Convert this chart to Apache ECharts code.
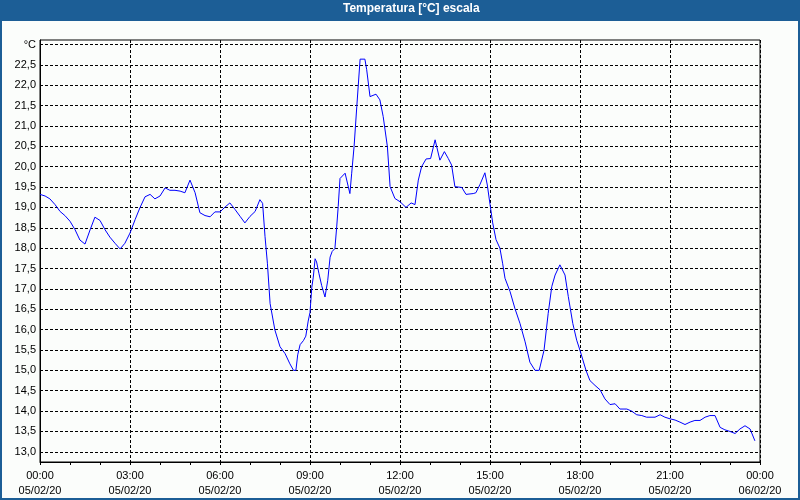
<!DOCTYPE html>
<html>
<head>
<meta charset="utf-8">
<script src="https://cdn.jsdelivr.net/npm/echarts@6/dist/echarts.min.js"></script>
<style>
html,body{margin:0;padding:0;background:#fbfdfb;}
#chart{width:800px;height:500px;}
</style>
</head>
<body>
<div id="chart"></div>
<script>
// ---- data ----
var titleText = 'Temperatura [°C] escala';
var hours = [0,0.17,0.33,0.5,0.67,0.83,1.0,1.17,1.33,1.5,1.67,1.83,2.0,2.17,2.33,2.5,2.67,2.83,3.0,3.17,3.33,3.5,3.67,3.83,4.0,4.17,4.33,4.5,4.67,4.83,5.0,5.17,5.33,5.5,5.67,5.83,6.0,6.17,6.33,6.5,6.67,6.83,7.0,7.17,7.33,7.42,7.5,7.58,7.67,7.83,8.0,8.17,8.33,8.45,8.53,8.59,8.67,8.78,8.86,8.94,9.0,9.06,9.11,9.17,9.22,9.3,9.39,9.5,9.59,9.67,9.74,9.83,9.89,9.94,10.0,10.17,10.33,10.39,10.47,10.56,10.67,10.83,10.89,11.0,11.2,11.33,11.44,11.58,11.67,11.83,12.0,12.2,12.37,12.5,12.61,12.72,12.87,13.02,13.17,13.33,13.48,13.61,13.72,13.83,14.06,14.2,14.44,14.53,14.67,14.83,14.91,15.0,15.09,15.2,15.33,15.42,15.5,15.67,15.83,16.0,16.17,16.33,16.5,16.64,16.8,16.94,17.06,17.17,17.33,17.5,17.61,17.76,17.89,18.0,18.2,18.33,18.5,18.67,18.83,19.0,19.17,19.33,19.56,19.72,19.89,20.06,20.22,20.5,20.67,20.83,21.0,21.17,21.33,21.5,21.67,21.83,22.0,22.17,22.33,22.5,22.67,22.83,23.0,23.17,23.33,23.5,23.67,23.83];
var temps = [19.32,19.28,19.21,19.07,18.9,18.8,18.66,18.45,18.2,18.1,18.45,18.76,18.68,18.45,18.27,18.12,17.98,18.12,18.37,18.7,18.99,19.26,19.32,19.21,19.28,19.48,19.42,19.42,19.4,19.36,19.67,19.36,18.87,18.8,18.77,18.89,18.89,19.01,19.11,18.95,18.78,18.62,18.78,18.9,19.19,19.1,18.29,17.63,16.64,15.99,15.58,15.41,15.16,15.0,15.0,15.38,15.63,15.73,15.84,16.21,16.42,17.04,17.29,17.74,17.66,17.37,17.08,16.8,17.2,17.78,17.92,17.99,18.52,19.02,19.71,19.84,19.34,19.84,20.5,21.48,22.64,22.64,22.38,21.72,21.78,21.64,21.23,20.49,19.51,19.22,19.14,19.0,19.11,19.07,19.67,20.0,20.19,20.2,20.66,20.16,20.37,20.2,20.04,19.51,19.49,19.32,19.34,19.36,19.57,19.85,19.55,19.08,18.62,18.21,18.0,17.63,17.26,16.93,16.52,16.15,15.7,15.2,15.0,15.0,15.49,16.4,17.06,17.34,17.59,17.34,16.81,16.15,15.74,15.49,15.0,14.75,14.63,14.52,14.3,14.16,14.18,14.05,14.05,14.0,13.91,13.89,13.85,13.85,13.91,13.85,13.81,13.78,13.73,13.67,13.73,13.77,13.77,13.85,13.89,13.89,13.6,13.54,13.5,13.45,13.56,13.64,13.56,13.27];
var xTickLabels = ['00:00\n05/02/20','03:00\n05/02/20','06:00\n05/02/20','09:00\n05/02/20','12:00\n05/02/20','15:00\n05/02/20','18:00\n05/02/20','21:00\n05/02/20','00:00\n06/02/20'];
var yUnitLabel = '°C';

// ---- chart ----
var seriesData = hours.map(function (h, i) { return [h, temps[i]]; });
var chart = echarts.init(document.getElementById('chart'));
var font = 'Liberation Sans, Arial, sans-serif';
chart.setOption({
  animation: false,
  backgroundColor: '#fbfdfb',
  graphic: [
    { type: 'rect', z: 0, shape: { x: 0, y: 0, width: 800, height: 21 }, style: { fill: '#1c5e96' } },
    { type: 'rect', z: 0, shape: { x: 1, y: 1, width: 798, height: 498 }, style: { fill: 'none', stroke: '#1c5e96', lineWidth: 2 } }
  ],
  title: {
    text: titleText, left: 343, top: 3, z: 10, padding: 0,
    textStyle: { color: '#ffffff', fontSize: 12, fontWeight: 'bold', fontFamily: font }
  },
  grid: { left: 40, right: 40, top: 40, bottom: 38, show: true, borderColor: '#000', borderWidth: 1, backgroundColor: '#fbfdfb' },
  xAxis: {
    type: 'value', min: 0, max: 24, interval: 3,
    axisLine: { show: true, lineStyle: { color: '#000', width: 1 } },
    axisTick: { show: true, length: 3, lineStyle: { color: '#000' } },
    minorTick: { show: true, splitNumber: 3, length: 3, lineStyle: { color: '#000' } },
    axisLabel: {
      color: '#000', fontSize: 11, fontFamily: font, lineHeight: 15, margin: 6,
      formatter: function (v) { return xTickLabels[Math.round(v / 3)]; }
    },
    splitLine: { show: true, lineStyle: { color: '#000', type: [3, 2], width: 1 } }
  },
  yAxis: {
    type: 'value', min: 12.75, max: 23.11, interval: 0.25,
    axisLine: { show: true, lineStyle: { color: '#000', width: 1 } },
    axisTick: { show: false },
    axisLabel: {
      color: '#000', fontSize: 11, fontFamily: font, margin: 4,
      formatter: function (v) {
        if (Math.abs(v - 23) < 1e-6) return yUnitLabel;
        var r = Math.round(v * 2) / 2;
        if (Math.abs(v - r) > 1e-6 || v > 23.05) return '';
        return r.toFixed(1).replace('.', ',');
      }
    },
    splitLine: { show: true, lineStyle: { color: ['rgba(0,0,0,0)', '#000'], type: [3, 2], width: 1 } }
  },
  series: [{
    type: 'line', data: seriesData, showSymbol: false, symbol: 'none',
    lineStyle: { color: '#0000ff', width: 1 }, z: 5
  }]
});
</script>
</body>
</html>
